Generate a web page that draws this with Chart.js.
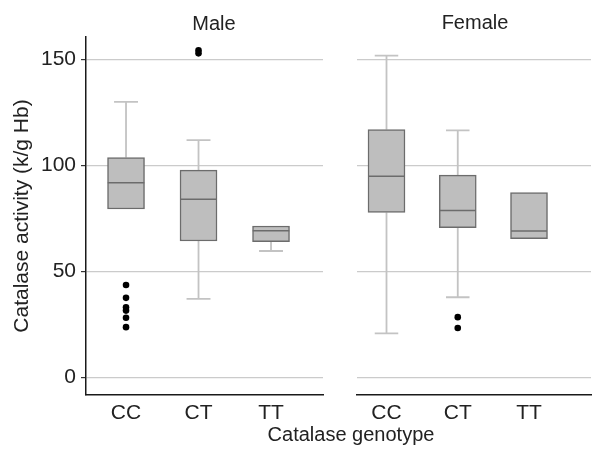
<!DOCTYPE html>
<html>
<head>
<meta charset="utf-8">
<script src="https://cdn.jsdelivr.net/npm/chart.js@4/dist/chart.umd.min.js"></script>
<style>
  html, body { margin: 0; padding: 0; background: #fff; }
  #wrap { position: relative; width: 595px; height: 449px; overflow: hidden; }
  #left { position: absolute; left: 0; top: 0; }
  #right { position: absolute; left: 335px; top: 0; }
  .lbl { position: absolute; width: 200px; text-align: center; white-space: nowrap;
         font: 20px 'Liberation Sans', Arial, sans-serif; line-height: 24px; color: #222; }
  #xtitle { left: 251px; top: 422px; }
  #tMale { left: 114px; top: 11px; }
  #tFemale { left: 375px; top: 10px; }
</style>
</head>
<body>
<div id="wrap">
  <canvas id="left" width="335" height="449"></canvas>
  <canvas id="right" width="260" height="449"></canvas>
  <div class="lbl" id="tMale">Male</div>
  <div class="lbl" id="tFemale">Female</div>
  <div class="lbl" id="xtitle">Catalase genotype</div>
</div>
<script>
// ---- data ----
const categories = ['CC', 'CT', 'TT'];
const yTicks = [0, 50, 100, 150];

const maleQ1     = [79.4, 64.3, 64.0];
const maleMedian = [91.8, 84.0, 69.2];
const maleQ3     = [103.7, 97.7, 71.4];
const maleLow    = [null, 37.0, 59.6];
const maleHigh   = [129.9, 111.9, null];
const maleOutliers = [[43.6, 37.5, 33.1, 31.5, 28.1, 23.7], [152.8, 154.2], []];

const femaleQ1     = [77.8, 70.6, 65.4];
const femaleMedian = [94.8, 78.7, 69.0];
const femaleQ3     = [116.9, 95.4, 87.2];
const femaleLow    = [20.8, 37.8, null];
const femaleHigh   = [151.7, 116.5, null];
const femaleOutliers = [[], [28.4, 23.3], []];

// ---- styling ----
const FONT = "'Liberation Sans', Arial, sans-serif";
Chart.defaults.font.family = FONT;
Chart.defaults.color = '#222';
const BOX_HALF = 0.252;   // half box width (x units)
const CAP_HALF = 0.165;   // half whisker cap width (x units)
const BOX_FILL = '#bebebe';
const BOX_EDGE = '#6c6c6c';
const WHISKER = '#c3c3c3';
const GRID = '#cbcbcb';

function segData(segs) {
  const out = [];
  segs.forEach(s => { out.push({x: s[0], y: s[1]}, {x: s[2], y: s[3]}, {x: s[2], y: null}); });
  return out;
}

function build(canvasId, q1, med, q3, low, high, outl, xmin, xmax, showY) {
  const whiskerSegs = [], capSegs = [], medSegs = [], pts = [], boxes = [];
  categories.forEach((c, i) => {
    const x = i + 1;
    boxes.push({x: x, y: [q1[i], q3[i]]});
    medSegs.push([x - BOX_HALF, med[i], x + BOX_HALF, med[i]]);
    if (high[i] !== null) {
      whiskerSegs.push([x, q3[i], x, high[i]]);
      capSegs.push([x - CAP_HALF, high[i], x + CAP_HALF, high[i]]);
    }
    if (low[i] !== null) {
      whiskerSegs.push([x, q1[i], x, low[i]]);
      capSegs.push([x - CAP_HALF, low[i], x + CAP_HALF, low[i]]);
    }
    outl[i].forEach(v => pts.push({x: x, y: v}));
  });

  const lineBase = {type: 'line', pointRadius: 0, tension: 0, spanGaps: false, fill: false};
  return new Chart(document.getElementById(canvasId), {
    type: 'bar',
    data: {
      datasets: [
        Object.assign({}, lineBase, {data: segData(whiskerSegs), borderColor: WHISKER, borderWidth: 1.8, order: 5}),
        Object.assign({}, lineBase, {data: segData(capSegs), borderColor: WHISKER, borderWidth: 1.8, order: 4}),
        {type: 'bar', data: boxes, backgroundColor: BOX_FILL, borderColor: BOX_EDGE, borderWidth: 1.5,
         borderSkipped: false, barThickness: 37, order: 3},
        Object.assign({}, lineBase, {data: segData(medSegs), borderColor: BOX_EDGE, borderWidth: 1.5, order: 2}),
        {type: 'line', data: pts, showLine: false, pointRadius: 3.3, pointBackgroundColor: '#000',
         pointBorderColor: '#000', pointBorderWidth: 0, order: 1}
      ]
    },
    options: {
      responsive: false,
      animation: false,
      layout: {padding: {left: 0, right: showY ? 12 : 0, top: 37, bottom: 0}},
      plugins: {
        legend: {display: false},
        tooltip: {enabled: false}
      },
      scales: {
        x: {
          type: 'linear', min: xmin, max: xmax, offset: false,
          afterBuildTicks: s => { s.ticks = categories.map((c, i) => ({value: i + 1})); },
          afterFit: s => { s.height = 54; },
          ticks: {callback: (v, i) => categories[i], font: {size: 21}, color: '#222', padding: 6, maxRotation: 0},
          grid: {drawOnChartArea: false, drawTicks: false, offset: false},
          border: {display: true, color: '#1a1a1a', width: 1.5}
        },
        y: {
          type: 'linear', min: -8.3, max: 160.5,
          afterBuildTicks: s => { s.ticks = yTicks.map(v => ({value: v})); },
          afterFit: s => { s.width = showY ? 86 : 22; },
          ticks: {display: showY, font: {size: 21}, color: '#222', padding: 5},
          grid: {color: GRID, lineWidth: 1.2, drawTicks: showY, tickLength: 5, tickColor: '#333'},
          border: {display: showY, color: '#1a1a1a', width: 1.5},
          title: {display: showY, text: 'Catalase activity (k/g Hb)', font: {size: 21}, color: '#222',
                  padding: {top: 10, bottom: 0}}
        }
      }
    }
  });
}

build('left', maleQ1, maleMedian, maleQ3, maleLow, maleHigh, maleOutliers, 0.448, 3.717, true);
build('right', femaleQ1, femaleMedian, femaleQ3, femaleLow, femaleHigh, femaleOutliers, 0.586, 3.87, false);
</script>
</body>
</html>
